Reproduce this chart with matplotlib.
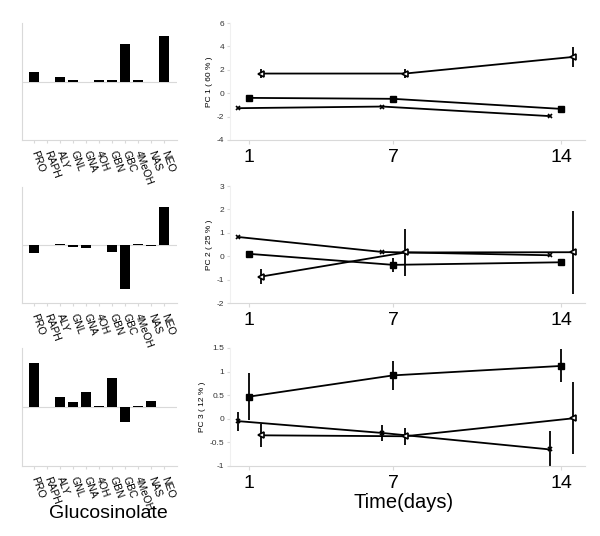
import matplotlib
matplotlib.use("Agg")
import matplotlib.pyplot as plt
import numpy as np

plt.rcParams['font.family'] = ['Liberation Sans', 'DejaVu Sans']
plt.rcParams['axes.unicode_minus'] = False

# ---- data ----
glucosinolates = ["PRO", "RAPH", "ALY", "GNL", "GNA", "4OH", "GBN", "GBC", "4MeOH", "NAS", "NEO"]
loadings_pc1 = [0.17, 0.0, 0.07, 0.03, -0.01, 0.02, 0.03, 0.64, 0.02, 0.0, 0.78]
loadings_pc2 = [-0.14, 0.0, 0.02, -0.03, -0.06, 0.0, -0.12, -0.76, 0.01, -0.02, 0.65]
loadings_pc3 = [0.75, 0.0, 0.17, 0.08, 0.25, 0.02, 0.49, -0.25, 0.02, 0.11, 0.0]

days = [1, 7, 14]
day_labels = ["1", "7", "14"]
pc_labels = ["PC 1 ( 60 % )", "PC 2 ( 25 % )", "PC 3 ( 12 % )"]

# series: square (filled), cross, open diamond
pc1_square = [-0.40, -0.48, -1.34]
pc1_square_err = [0.08, 0.08, 0.08]
pc1_cross = [-1.28, -1.14, -1.96]
pc1_cross_err = [0.05, 0.05, 0.05]
pc1_diam = [1.68, 1.68, 3.10]
pc1_diam_err = [0.35, 0.40, 0.85]

pc2_square = [0.10, -0.37, -0.26]
pc2_square_err = [0.12, 0.30, 0.06]
pc2_cross = [0.82, 0.18, 0.04]
pc2_cross_err = [0.04, 0.04, 0.04]
pc2_diam = [-0.87, 0.16, 0.17]
pc2_diam_err = [0.32, 1.00, 1.78]

pc3_square = [0.47, 0.92, 1.12]
pc3_square_err = [0.50, 0.30, 0.35]
pc3_cross = [-0.05, -0.30, -0.65]
pc3_cross_err = [0.20, 0.17, 0.40]
pc3_diam = [-0.35, -0.37, 0.01]
pc3_diam_err = [0.25, 0.18, 0.76]

W, H = 600, 536
fig = plt.figure(figsize=(6, 5.36), dpi=100)

def rect(l, t, r, b):
    return [l / W, 1 - b / H, (r - l) / W, (b - t) / H]

grey = '#d9d9d9'

bar_boxes = [(22, 23, 177, 140), (22, 187, 177, 303), (22, 348, 177, 466)]
line_boxes = [(230, 23, 585, 140), (230, 186, 585, 303), (230, 348, 585, 466)]
loads = [loadings_pc1, loadings_pc2, loadings_pc3]
ylims = [(-4, 6), (-2, 3), (-1, 1.5)]
yticks = [[-4, -2, 0, 2, 4, 6], [-2, -1, 0, 1, 2, 3], [-1, -0.5, 0, 0.5, 1, 1.5]]
series = [
    (pc1_square, pc1_square_err, pc1_cross, pc1_cross_err, pc1_diam, pc1_diam_err),
    (pc2_square, pc2_square_err, pc2_cross, pc2_cross_err, pc2_diam, pc2_diam_err),
    (pc3_square, pc3_square_err, pc3_cross, pc3_cross_err, pc3_diam, pc3_diam_err),
]

x = np.arange(len(glucosinolates))
for i in range(3):
    ax = fig.add_axes(rect(*bar_boxes[i]))
    ax.bar(x, loads[i], width=0.75, color='black')
    ax.axhline(0, color=grey, lw=0.8, zorder=0)
    ax.set_xlim(-0.92, 11)
    ax.set_ylim(-1, 1)
    ax.set_yticks([])
    for s in ['top', 'right']:
        ax.spines[s].set_visible(False)
    for s in ['left', 'bottom']:
        ax.spines[s].set_color(grey)
        ax.spines[s].set_linewidth(0.8)
    ax.set_xticks(x)
    ax.set_xticklabels(glucosinolates, rotation=-70, rotation_mode='anchor',
                       ha='left', va='center', fontsize=7.5)
    ax.tick_params(axis='x', length=2, color=grey, pad=6)

d = np.array(days, dtype=float)
for i in range(3):
    ax = fig.add_axes(rect(*line_boxes[i]))
    sq, sqe, cr, cre, di, die = series[i]
    ax.errorbar(d, sq, yerr=sqe, color='black', lw=1.3, marker='s', ms=5,
                mfc='black', elinewidth=1.3, capsize=0)
    ax.errorbar(d - 0.45, cr, yerr=cre, color='black', lw=1.3, marker='x', ms=3.5,
                mew=1.2, elinewidth=1.3, capsize=0)
    ax.errorbar(d + 0.5, di, yerr=die, color='black', lw=1.3, marker='<', ms=5,
                mfc='white', mew=1.2, elinewidth=1.3, capsize=0)
    ax.set_xlim(0.2, 15)
    ax.set_ylim(*ylims[i])
    ax.set_yticks(yticks[i])
    ax.set_yticklabels(['%g' % v for v in yticks[i]], fontsize=6, color='#333333')
    ax.set_xticks(days)
    ax.set_xticklabels(day_labels, fontsize=14)
    ax.tick_params(axis='x', length=3, color=grey, pad=3.5)
    ax.tick_params(axis='y', length=2, color=grey, pad=2)
    for s in ['top', 'right']:
        ax.spines[s].set_visible(False)
    ax.spines['bottom'].set_color(grey)
    ax.spines['left'].set_color('#f0f0f0')
    ax.set_ylabel(pc_labels[i], fontsize=6, labelpad=3)

fig.text(108 / W, 1 - 513 / H, "Glucosinolate", fontsize=14, ha='center', va='center')
fig.text(404 / W, 1 - 503 / H, "Time(days)", fontsize=14.5, ha='center', va='center')

fig.savefig("out.png", dpi=100)
